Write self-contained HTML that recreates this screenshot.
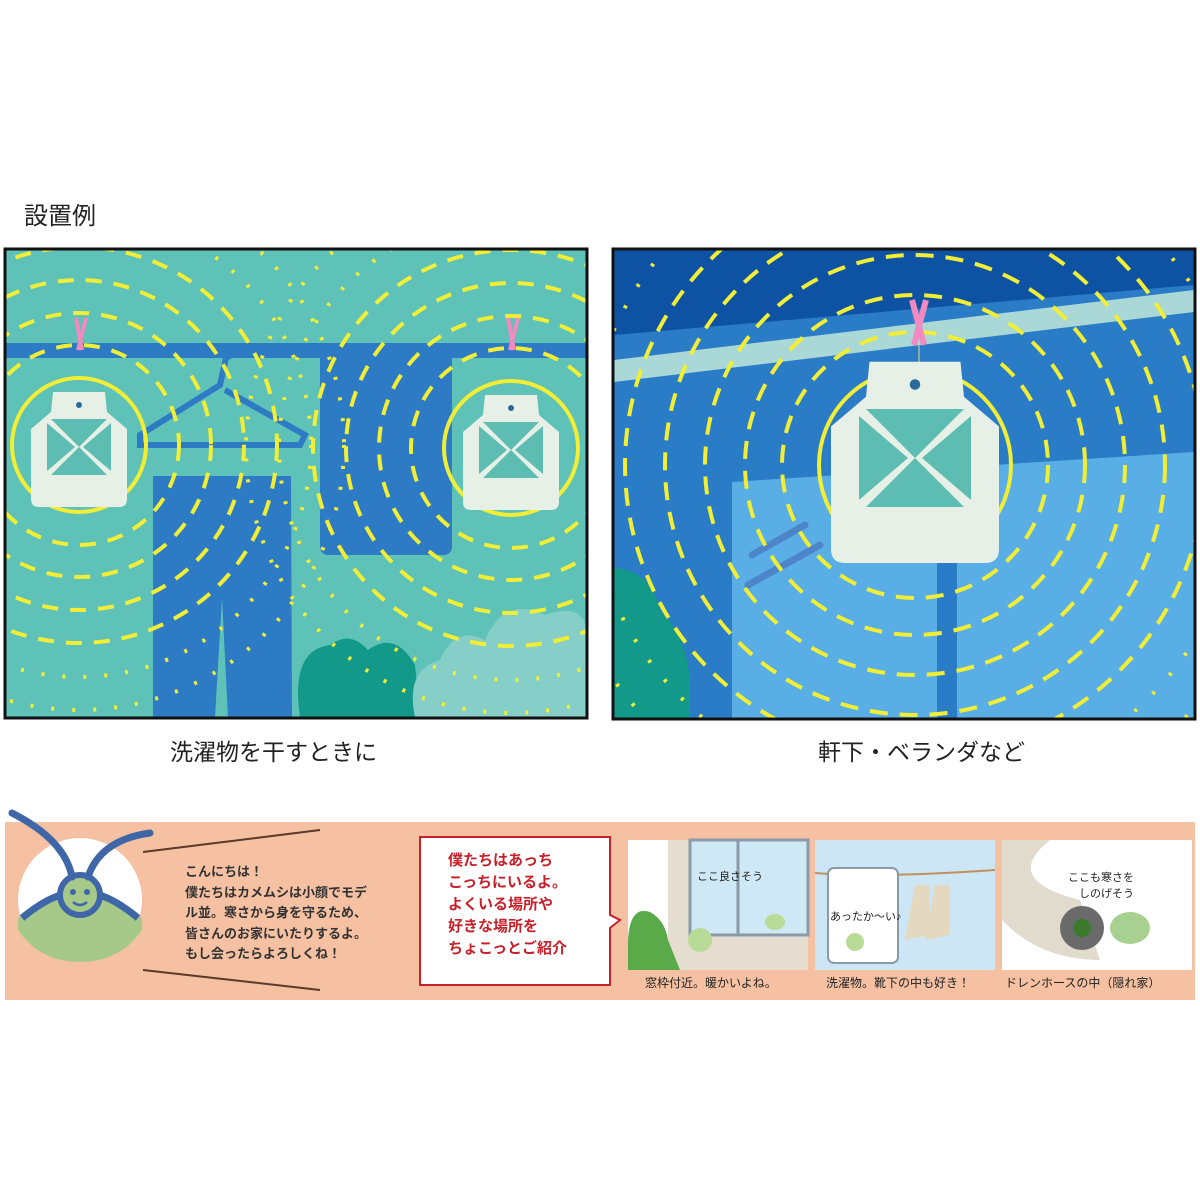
<!DOCTYPE html>
<html><head><meta charset="utf-8"><style>
body{margin:0;background:#fff;width:1200px;height:1200px;position:relative;overflow:hidden;font-family:"Liberation Sans","Noto Sans CJK JP",sans-serif}
.t{position:absolute;color:#222}
</style></head><body>
<div class="t" style="left:24px;top:196px;font-size:24px">設置例</div>
<svg width="1200" height="1200" style="position:absolute;left:0;top:0" xmlns="http://www.w3.org/2000/svg">
<defs>
<clipPath id="c1"><rect x="6" y="250" width="580" height="467"/></clipPath>
<clipPath id="c2"><rect x="614" y="250" width="580" height="468"/></clipPath>
<g id="tag">
<path d="M-26,-55 L26,-55 L28,-35 L48,-18 L48,52 Q48,60 40,60 L-40,60 Q-48,60 -48,52 L-48,-18 L-28,-35 Z" fill="#e6f0e6"/>
<path d="M-28,-28 L28,-28 L0,0 Z M-28,28 L28,28 L0,0 Z M-32,-24 L-32,24 L-4,0 Z M32,-24 L32,24 L4,0 Z" fill="#5dbdb3"/>
<circle cx="0" cy="-42" r="3" fill="#2a6a9a"/>
</g>
</defs>
<!-- Panel 1 -->
<g clip-path="url(#c1)">
<rect x="6" y="250" width="580" height="467" fill="#5ec2b9"/>
<rect x="6" y="343" width="580" height="15" fill="#2c7bc4"/>
<path d="M240,350 L226,358 L220,385 L140,435 L140,445 L300,445 L305,435 L225,390" fill="none" stroke="#2c7bc4" stroke-width="6"/>
<path d="M153,476 L291,476 L292,717 L228,717 L222,598 L215,717 L153,717 Z" fill="#2c7bc4"/>
<rect x="320" y="343" width="132" height="212" rx="8" fill="#2c7bc4"/>
<path d="M300,717 Q290,650 330,645 Q350,630 368,650 Q395,630 415,665 L420,717 Z" fill="#12998a"/>
<path d="M415,717 Q405,670 440,660 Q455,625 485,640 Q505,595 545,615 Q590,600 586,640 L586,717 Z" fill="#86cfc8"/>
<g fill="none" stroke="#f2ee36" stroke-width="4">
<circle cx="79" cy="445" r="67"/>
<circle cx="511" cy="448" r="67"/>
<g stroke-dasharray="16 12">
<circle cx="79" cy="445" r="100"/><circle cx="79" cy="445" r="132"/><circle cx="79" cy="445" r="165"/><circle cx="79" cy="445" r="198"/>
<circle cx="511" cy="448" r="100"/><circle cx="511" cy="448" r="132"/><circle cx="511" cy="448" r="165"/><circle cx="511" cy="448" r="198"/>
</g>
<g stroke-dasharray="3 18" stroke-width="4"><circle cx="79" cy="445" r="232"/><circle cx="511" cy="448" r="232"/><circle cx="79" cy="445" r="265"/><circle cx="511" cy="448" r="265"/></g>
</g>
<use href="#tag" x="79" y="447"/>
<use href="#tag" x="511" y="450"/>
<path d="M76,318 L82,350 M86,318 L78,350" stroke="#f08ac0" stroke-width="4"/>
<path d="M508,318 L514,350 M518,318 L510,350" stroke="#f08ac0" stroke-width="4"/>
</g>
<rect x="5" y="249" width="582" height="469" fill="none" stroke="#111" stroke-width="3"/>
<!-- Panel 2 -->
<g clip-path="url(#c2)">
<rect x="614" y="250" width="580" height="468" fill="#2a7cc6"/>
<path d="M614,250 L1194,250 L1194,285 L614,335 Z" fill="#0e52a4"/>
<path d="M614,360 L1194,290 L1194,312 L614,382 Z" fill="#a9d8d6"/>
<path d="M732,482 L1194,452 L1194,718 L732,718 Z" fill="#5aaee6"/>
<rect x="937" y="555" width="20" height="163" fill="#2a7cc6"/>
<path d="M752,555 L805,525 M748,585 L820,545" stroke="#4d86c8" stroke-width="7" stroke-linecap="round"/>
<path d="M614,568 Q650,570 660,610 Q690,640 690,690 L690,718 L614,718 Z" fill="#12998a"/>
<g fill="none" stroke="#f2ee36" stroke-width="4">
<circle cx="915" cy="465" r="96"/>
<g stroke-dasharray="18 12">
<circle cx="915" cy="465" r="133"/><circle cx="915" cy="465" r="170"/><circle cx="915" cy="465" r="210"/><circle cx="915" cy="465" r="250"/><circle cx="915" cy="465" r="290"/>
</g>
<g stroke-dasharray="3 22"><circle cx="915" cy="465" r="330"/><circle cx="915" cy="465" r="370"/></g>
</g>
<path d="M912,300 L924,345 M926,300 L914,345" stroke="#f08ac0" stroke-width="6"/>
<line x1="919" y1="345" x2="919" y2="375" stroke="#8aa" stroke-width="2"/>
<g transform="translate(915,458) scale(1.75)"><use href="#tag"/></g>
</g>
<rect x="613" y="249" width="582" height="470" fill="none" stroke="#111" stroke-width="3"/>
<!-- Banner -->
<rect x="5" y="822" width="1190" height="178" fill="#f6c0a2"/>
<circle cx="80" cy="900" r="62" fill="#fff"/>
<path d="M18,918 Q80,875 142,918 L142,930 Q120,962 80,962 Q40,962 18,930 Z" fill="#a6c98a"/>
<path d="M22,918 Q50,895 70,893 M138,918 Q110,895 90,893" stroke="#3f67a8" stroke-width="7" fill="none"/>
<circle cx="80" cy="895" r="20" fill="#a6c98a" stroke="#3f67a8" stroke-width="6"/>
<path d="M72,877 Q65,840 12,813 M88,877 Q100,840 150,833" stroke="#3f67a8" stroke-width="7" fill="none" stroke-linecap="round"/>
<circle cx="73" cy="892" r="3" fill="#3f67a8"/><circle cx="87" cy="892" r="3" fill="#3f67a8"/>
<path d="M73,902 Q80,908 87,902" stroke="#3f67a8" stroke-width="2.5" fill="none"/>
<line x1="143" y1="852" x2="320" y2="830" stroke="#5a3a2a" stroke-width="2"/>
<line x1="143" y1="970" x2="320" y2="990" stroke="#5a3a2a" stroke-width="2"/>
<path d="M420,837 L610,837 L610,915 L620,920 L610,928 L610,985 L420,985 Z" fill="#fff" stroke="#c8202a" stroke-width="2"/>
<rect x="628" y="840" width="180" height="130" fill="#e4ddd0"/>
<rect x="628" y="840" width="40" height="130" fill="#fff"/>
<rect x="690" y="840" width="118" height="95" fill="#cfe8f5" stroke="#8a9aa8" stroke-width="3"/>
<line x1="738" y1="840" x2="738" y2="935" stroke="#8a9aa8" stroke-width="3"/>
<path d="M628,940 Q630,905 650,912 Q665,920 668,940 L680,970 L628,970 Z" fill="#5aaa4a"/>
<rect x="815" y="840" width="180" height="130" fill="#cde6f6"/>
<path d="M815,873 Q880,878 995,870" stroke="#c09060" stroke-width="2" fill="none"/>
<rect x="828" y="868" width="70" height="95" rx="6" fill="#fff" stroke="#8a9aa8" stroke-width="2"/>
<path d="M915,885 L930,885 L930,935 L905,940 Z M935,885 L950,885 L950,935 L925,940 Z" fill="#e4d9c0"/>
<rect x="1002" y="840" width="190" height="130" fill="#fff"/>
<path d="M1002,840 L1050,840 Q1000,880 1080,900 L1100,960 Q1040,960 1002,920 Z" fill="#e0dbcc"/>
<circle cx="1082" cy="928" r="22" fill="#6a6a6a"/>
<circle cx="1082" cy="928" r="9" fill="#3a7a2a"/>
<ellipse cx="1130" cy="928" rx="20" ry="16" fill="#a8d090"/>
<ellipse cx="700" cy="940" rx="12" ry="12" fill="#b8dc98"/>
<ellipse cx="775" cy="922" rx="10" ry="8" fill="#b8dc98"/>
<ellipse cx="855" cy="942" rx="9" ry="9" fill="#b8dc98"/>
</svg>
<div class="t" style="left:170px;top:733px;font-size:23px">洗濯物を干すときに</div>
<div class="t" style="left:818px;top:733px;font-size:23px">軒下・ベランダなど</div>
<div class="t" style="left:185px;top:862px;font-size:13px;line-height:20.5px;font-weight:bold;color:#333">こんにちは！<br>僕たちはカメムシは小顔でモデ<br>ル並。寒さから身を守るため、<br>皆さんのお家にいたりするよ。<br>もし会ったらよろしくね！</div>
<div class="t" style="left:448px;top:850px;font-size:15px;line-height:22px;font-weight:bold;color:#c8202a">僕たちはあっち<br>こっちにいるよ。<br>よくいる場所や<br>好きな場所を<br>ちょこっとご紹介</div>
<div class="t" style="left:697px;top:868px;font-size:11px;color:#222">ここ良さそう</div>
<div class="t" style="left:830px;top:908px;font-size:11px;color:#222">あったか〜い♪</div>
<div class="t" style="left:1068px;top:870px;font-size:11px;line-height:16px;color:#222">ここも寒さを<br>　しのげそう</div>
<div class="t" style="left:645px;top:974px;font-size:12px;color:#222">窓枠付近。暖かいよね。</div>
<div class="t" style="left:826px;top:974px;font-size:12px;color:#222">洗濯物。靴下の中も好き！</div>
<div class="t" style="left:1005px;top:974px;font-size:12px;color:#222">ドレンホースの中（隠れ家）</div>
</body></html>
